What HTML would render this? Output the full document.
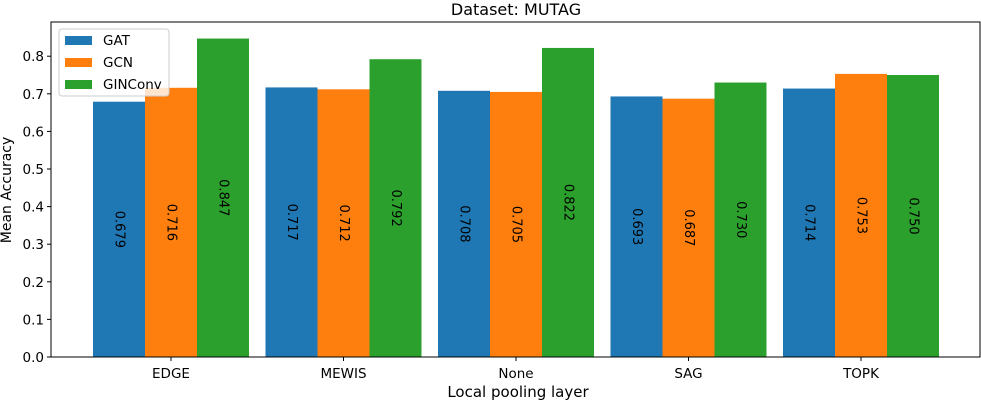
<!DOCTYPE html>
<html><head><meta charset="utf-8"><style>
body{margin:0;background:#fff;font-family:"DejaVu Sans","Liberation Sans",sans-serif;}
svg text{font-family:"DejaVu Sans","Liberation Sans",sans-serif;}
</style></head><body>
<svg id="c" width="981" height="400" xmlns="http://www.w3.org/2000/svg"></svg>
<script>
const categories=["EDGE","MEWIS","None","SAG","TOPK"];
const gat=[0.679,0.717,0.708,0.693,0.714];
const gcn=[0.716,0.712,0.705,0.687,0.753];
const gin=[0.847,0.792,0.822,0.730,0.750];
const seriesNames=["GAT","GCN","GINConv"];
const yTicks=[0,0.1,0.2,0.3,0.4,0.5,0.6,0.7,0.8];
const colors=["#1f77b4","#ff7f0e","#2ca02c"];
const L=51,R=980,T=22,B=357;
const yMax=0.891;
const ys=v=>B-(v/yMax)*(B-T);
const x0=171,step=172.5;
const xc=i=>x0+step*i;
const bw=52;
const svg=document.getElementById('c');
const NS="http://www.w3.org/2000/svg";
function mk(t,a,txt){const e=document.createElementNS(NS,t);for(const k in a)e.setAttribute(k,a[k]);if(txt!==undefined)e.textContent=txt;svg.appendChild(e);return e;}
const t=mk('text',{x:516,y:15,'text-anchor':'middle','font-size':16},'Dataset: MUTAG');


[gat,gcn,gin].forEach((s,si)=>{
 s.forEach((v,i)=>{
  const cx=xc(i)+(si-1)*bw;
  const r=mk('rect',{x:cx-bw/2,y:ys(v),width:bw,height:B-ys(v),fill:colors[si]});
  
  
  const my=(ys(v)+B)/2;
  const lb=mk('text',{x:cx,y:my,'text-anchor':'middle','dominant-baseline':'central','font-size':13,transform:`rotate(90 ${cx} ${my})`},v.toFixed(3));
  
  
 });
});
const ax=mk('rect',{x:L,y:T,width:R-L,height:B-T,fill:'none',stroke:'#000','stroke-width':1});


yTicks.forEach(v=>{
 mk('line',{x1:L-4,x2:L,y1:ys(v),y2:ys(v),stroke:'#000'});
 const tl=mk('text',{x:L-7,y:ys(v)+5,'text-anchor':'end','font-size':13.5},v.toFixed(1));
 
 
});
categories.forEach((c,i)=>{
 mk('line',{x1:xc(i),x2:xc(i),y1:B,y2:B+4,stroke:'#000'});
 const tl=mk('text',{x:xc(i),y:B+21,'text-anchor':'middle','font-size':13.5},c);
 
 
});
const xt=mk('text',{x:518,y:397,'text-anchor':'middle','font-size':15},'Local pooling layer');


const yt=mk('text',{x:11,y:190,'text-anchor':'middle','font-size':14,transform:'rotate(-90 11 190)'},'Mean Accuracy');


const lg=mk('rect',{x:59,y:29,width:110,height:67,rx:3,fill:'#fff','fill-opacity':0.8,stroke:'#ccc'});


seriesNames.forEach((n,i)=>{
 const y=36+i*22;
 mk('rect',{x:65,y:y,width:27,height:9,fill:colors[i]});
 const e=mk('text',{x:103,y:y+9,'font-size':13.5},n);
 
 
});
</script>
</body></html>
